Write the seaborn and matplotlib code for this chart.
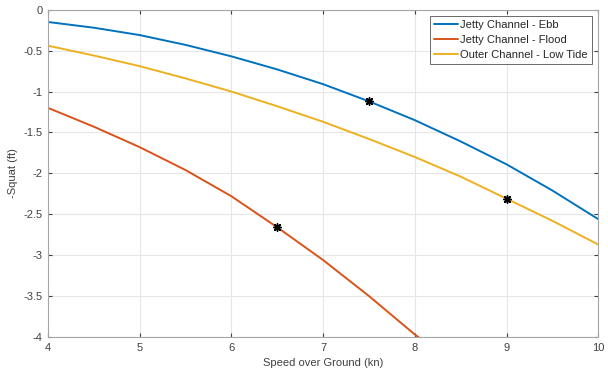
import numpy as np
import pandas as pd
import seaborn as sns
from matplotlib import pyplot as plt
from matplotlib.ticker import MultipleLocator

# values
speed = [4, 4.5, 5, 5.5, 6, 6.5, 7, 7.5, 8, 8.5, 9, 9.5, 10]
ebb = [-0.15, -0.22, -0.31, -0.43, -0.57, -0.73, -0.91, -1.12, -1.35, -1.61, -1.89, -2.21, -2.56]
low_tide = [-0.44, -0.56, -0.69, -0.84, -1.00, -1.18, -1.37, -1.58, -1.80, -2.04, -2.31, -2.58, -2.87]
flood_speed = [4, 4.5, 5, 5.5, 6, 6.5, 7, 7.5, 8, 8.05]
flood = [-1.20, -1.43, -1.68, -1.96, -2.28, -2.66, -3.06, -3.50, -3.97, -4.01]

series_names = ['Jetty Channel - Ebb', 'Jetty Channel - Flood', 'Outer Channel - Low Tide']
colors = ['#0072BD', '#D95319', '#EDB120']

# operating points (asterisks)
point_speed = [7.5, 6.5, 9]
point_squat = [-1.12, -2.66, -2.31]

df = pd.concat([
    pd.DataFrame({'Speed': speed, 'Squat': ebb, 'Case': series_names[0]}),
    pd.DataFrame({'Speed': flood_speed, 'Squat': flood, 'Case': series_names[1]}),
    pd.DataFrame({'Speed': speed, 'Squat': low_tide, 'Case': series_names[2]}),
])
pts = pd.DataFrame({'Speed': point_speed, 'Squat': point_squat})

sns.set_style('white')
plt.rcParams['font.family'] = ['Liberation Sans', 'DejaVu Sans']

fig = plt.figure(figsize=(6.08, 3.74), dpi=100)
ax = fig.add_axes([0.079, 0.099, 0.905, 0.875])

sns.lineplot(data=df, x='Speed', y='Squat', hue='Case', hue_order=series_names,
             palette=colors, linewidth=1.4, ax=ax, sort=True, estimator=None)
sns.scatterplot(data=pts, x='Speed', y='Squat', marker=(8, 2, 0), color='black',
                s=28, linewidth=1.1, edgecolor='black', ax=ax, zorder=5, legend=False)

ax.set_xlim(4, 10)
ax.set_ylim(-4, 0)
ax.xaxis.set_major_locator(MultipleLocator(1))
ax.yaxis.set_major_locator(MultipleLocator(0.5))
ax.set_yticklabels([('%g' % v) for v in ax.get_yticks()])
ax.grid(True, color='#e6e6e6', linewidth=0.8)
for s in ax.spines.values():
    s.set_color('#a6a6a6')
    s.set_linewidth(0.8)
ax.tick_params(direction='in', length=3, width=0.8, color='#404040', labelsize=8,
               labelcolor='#404040', top=True, right=True, bottom=True, left=True, pad=4)
ax.set_xlabel('Speed over Ground (kn)', fontsize=8, color='#404040')
ax.set_ylabel('-Squat (ft)', fontsize=8, color='#404040')

leg = ax.legend(loc='upper right', fontsize=8, frameon=True, fancybox=False,
                handlelength=2.2, handletextpad=0.15, borderpad=0.35, labelspacing=0.45,
                borderaxespad=0.6)
leg.get_frame().set_edgecolor('#262626')
leg.get_frame().set_linewidth(0.6)
for t in leg.get_texts():
    t.set_color('#262626')

fig.savefig('out.png', dpi=100)
